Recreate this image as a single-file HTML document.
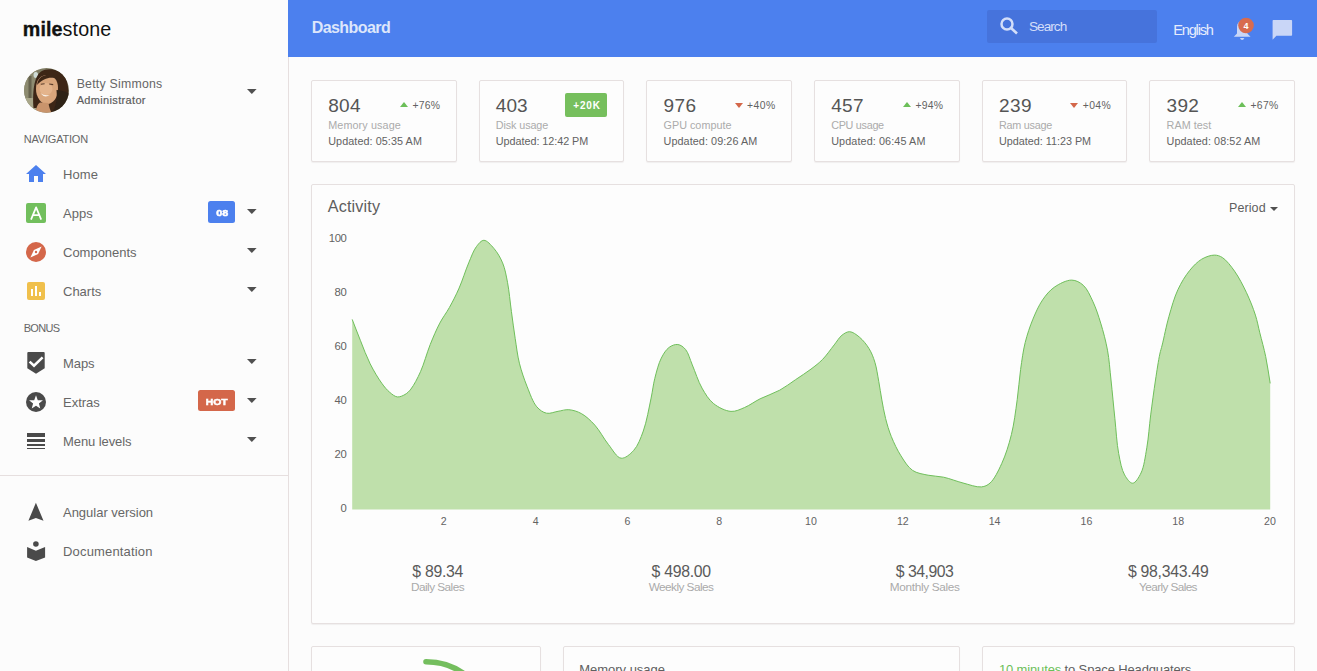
<!DOCTYPE html>
<html><head><meta charset="utf-8">
<style>
*{box-sizing:border-box;margin:0;padding:0}
html,body{width:1317px;height:671px;overflow:hidden;background:#fcfcfc;font-family:"Liberation Sans",sans-serif;color:#555;position:relative}
.t{position:absolute;white-space:nowrap}
.b{position:absolute}
.card{position:absolute;background:#fdfdfd;border:1px solid #e6e0e0;border-radius:2px;box-shadow:0 1px 1px rgba(90,70,70,0.07)}
.caret{position:absolute;left:246.8px;width:0;height:0;border-left:4.9px solid transparent;border-right:4.9px solid transparent;border-top:4.9px solid #505050}
.tri-up{position:absolute;width:0;height:0;border-left:4.8px solid transparent;border-right:4.8px solid transparent;border-bottom:5px solid #6cbf59}
.tri-dn{position:absolute;width:0;height:0;border-left:4.7px solid transparent;border-right:4.7px solid transparent;border-top:5.3px solid #d4674a}
</style></head>
<body>
<!-- sidebar -->
<div class="b" style="left:0;top:0;width:288px;height:671px;background:#fcfcfc"></div>
<div class="b" style="left:288px;top:0;width:1px;height:671px;background:#e6dfdf"></div>
<div class="b" style="left:0;top:475px;width:288px;height:1px;background:#e6dfdf"></div>

<!-- avatar -->
<svg class="b" style="left:24px;top:68px" width="45" height="45" viewBox="0 0 45 45">
  <defs><clipPath id="av"><circle cx="22.5" cy="22.4" r="22.4"/></clipPath>
  <filter id="bl" x="-10%" y="-10%" width="120%" height="120%"><feGaussianBlur stdDeviation="0.7"/></filter></defs>
  <g clip-path="url(#av)">
    <rect width="45" height="45" fill="#7f7c63"/>
    <g filter="url(#bl)">
    <rect x="-2" y="0" width="15" height="47" fill="#8d8b70"/>
    <rect x="4.5" y="8" width="3" height="30" fill="#66634d"/>
    <rect x="0" y="30" width="12" height="17" fill="#a9a78a"/>
    <ellipse cx="11.8" cy="7" rx="2.3" ry="3" fill="#cfdcd6"/>
    <path d="M9.5 40 C8.5 26 9.5 9 17 3.5 C24 -0.5 35 1 40.5 8 C45.5 15 44.5 30 46 46 L30 46 L12 40 Z" fill="#3c2719"/>
    <path d="M12 21 C12 12 16.5 7 23 7 C30 7 34 12.5 34 20 C34 28 31 33.5 26 35.5 C22 37 18 35.5 15.5 32 C13 28.5 12 25 12 21Z" fill="#d9a67c"/>
    <path d="M13 17 C14 10 19 6.5 25 6.8 C30 7.2 32 9 33 11 C28 8.5 20 9 13 17Z" fill="#3c2719"/>
    <ellipse cx="22" cy="21" rx="6.5" ry="6" fill="#e4b48c"/>
    <path d="M16.8 16.2 L20.6 15.8 M25.2 16 L29.2 16.6" stroke="#5a3c2c" stroke-width="1.1"/>
    <path d="M16.5 25.3 Q21 31 26 26.8 Q21 28.3 16.5 25.3Z" fill="#f8f0e8"/>
    <path d="M11.5 46 C12 40 13.5 36 16 34.5 L24.5 35 C25 38.5 26 42 28 46Z" fill="#c9946c"/>
    <path d="M32.5 22 C33.5 32 31.5 40 27 46 L46 46 L46 26 C41 23 36 22 32.5 22Z" fill="#2f2017"/>
    </g>
  </g>
</svg>
<svg class="b" style="left:245px;top:86.8px" width="14" height="10" viewBox="0 0 14 10"><path d="M2 2.1 H11.6 L6.8 6.9 Z" fill="#505050"/></svg>

<!-- nav icons -->
<svg class="b" style="left:24px;top:162px" width="24" height="24" viewBox="0 0 24 24"><path d="M10 20v-6h4v6h5v-8h3L12 3 2 12h3v8z" fill="#4c80ee"/></svg>
<div class="b" style="left:26px;top:203px;width:20px;height:20px;background:#72bf5d;border-radius:2px"></div>
<svg class="b" style="left:26px;top:203px" width="20" height="20" viewBox="0 0 20 20"><path d="M5 16.7 L10.1 4.3 L15.2 16.7 M6.9 12.1 H13.3" stroke="#fff" stroke-width="1.75" fill="none" stroke-linejoin="round"/></svg>
<svg class="b" style="left:26px;top:242px" width="20" height="20" viewBox="0 0 20 20"><circle cx="10" cy="10" r="10" fill="#d4674a"/><path d="M15.6 4.4 L12.1 12.1 L4.4 15.6 L7.9 7.9 Z" fill="#fff"/><circle cx="10" cy="10" r="1.2" fill="#d4674a"/></svg>
<div class="b" style="left:27px;top:282px;width:18px;height:18px;background:#f0c04c;border-radius:2px"></div>
<div class="b" style="left:31px;top:289px;width:2px;height:7px;background:#fff"></div>
<div class="b" style="left:35px;top:286px;width:2px;height:10px;background:#fff"></div>
<div class="b" style="left:39px;top:292px;width:2px;height:4px;background:#fff"></div>
<svg class="b" style="left:26px;top:351px" width="20" height="24" viewBox="0 0 20 24"><path d="M1.3 2 Q1.3 1 2.3 1 H17.7 Q18.7 1 18.7 2 V17.3 L10 22.7 L1.3 17.3 Z" fill="#4a4a4a"/><path d="M3.6 10.6 L8 14.7 L16.6 6.4" stroke="#fff" stroke-width="2.5" fill="none"/></svg>
<svg class="b" style="left:26px;top:392px" width="20" height="20" viewBox="0 0 20 20"><circle cx="10" cy="10" r="10" fill="#4a4a4a"/><path d="M10.00 3.30 L11.79 8.13 L16.94 8.34 L12.90 11.54 L14.29 16.51 L10.00 13.65 L5.71 16.51 L7.10 11.54 L3.06 8.34 L8.21 8.13 Z" fill="#fff"/></svg>
<div class="b" style="left:27px;top:433px;width:18px;height:3.6px;background:#4a4a4a"></div>
<div class="b" style="left:27px;top:439px;width:18px;height:2.8px;background:#4a4a4a"></div>
<div class="b" style="left:27px;top:444px;width:18px;height:1.8px;background:#4a4a4a"></div>
<div class="b" style="left:27px;top:447.9px;width:18px;height:1px;background:#4a4a4a"></div>
<svg class="b" style="left:26px;top:500px" width="20" height="24" viewBox="0 0 20 24"><path d="M9.9 2.7 L17.5 20.8 L9.9 17.9 L2.4 20.8 Z" fill="#4a4a4a"/></svg>
<svg class="b" style="left:26px;top:538px" width="20" height="24" viewBox="0 0 20 24"><circle cx="9.9" cy="6" r="2.8" fill="#4a4a4a"/><path d="M1.1 9.1 L9.9 12.8 L19.1 9.1 V19.6 L9.9 22.9 L1.1 19.6 Z" fill="#4a4a4a"/></svg>

<svg class="b" style="left:245px;top:206.8px" width="14" height="10" viewBox="0 0 14 10"><path d="M2 2.1 H11.6 L6.8 6.9 Z" fill="#505050"/></svg>
<svg class="b" style="left:245px;top:245.8px" width="14" height="10" viewBox="0 0 14 10"><path d="M2 2.1 H11.6 L6.8 6.9 Z" fill="#505050"/></svg>
<svg class="b" style="left:245px;top:284.8px" width="14" height="10" viewBox="0 0 14 10"><path d="M2 2.1 H11.6 L6.8 6.9 Z" fill="#505050"/></svg>
<svg class="b" style="left:245px;top:356.8px" width="14" height="10" viewBox="0 0 14 10"><path d="M2 2.1 H11.6 L6.8 6.9 Z" fill="#505050"/></svg>
<svg class="b" style="left:245px;top:395.8px" width="14" height="10" viewBox="0 0 14 10"><path d="M2 2.1 H11.6 L6.8 6.9 Z" fill="#505050"/></svg>
<svg class="b" style="left:245px;top:434.8px" width="14" height="10" viewBox="0 0 14 10"><path d="M2 2.1 H11.6 L6.8 6.9 Z" fill="#505050"/></svg>

<div class="b" style="left:208px;top:201px;width:27px;height:22px;background:#4c80ee;border-radius:2.5px"></div>
<div class="b" style="left:198px;top:390px;width:37px;height:21px;background:#d4674a;border-radius:2.5px"></div>

<!-- header -->
<div class="b" style="left:288px;top:0;width:1029px;height:57px;background:#4c80ee"></div>
<div class="b" style="left:987px;top:10px;width:170px;height:32.5px;background:#4673dc;border-radius:2px"></div>
<svg class="b" style="left:996px;top:13px" width="26" height="26" viewBox="0 0 26 26"><circle cx="11" cy="10.9" r="5.5" stroke="#d3def9" stroke-width="2.5" fill="none"/><path d="M15 15 L21 20.5" stroke="#d3def9" stroke-width="2.6" fill="none"/></svg>
<svg class="b" style="left:1230px;top:14px" width="30" height="30" viewBox="0 0 30 30"><path d="M3.8 22.7 L7 19.5 V13 Q7 7.2 12.15 7.2 Q17.3 7.2 17.3 13 V19.5 L20.5 22.7 Z" fill="#c9d6f7"/><path d="M10 24 H14.3 Q13.6 25.9 12.15 25.9 Q10.7 25.9 10 24Z" fill="#c9d6f7"/><circle cx="16" cy="11.5" r="7.8" fill="#d86b4f"/></svg>
<svg class="b" style="left:1270px;top:18px" width="26" height="26" viewBox="0 0 26 26"><path d="M2.6 2.8 Q2.6 2 3.4 2 H21.3 Q22.1 2 22.1 2.8 V17 Q22.1 17.8 21.3 17.8 H6.4 L2.6 21.8 Z" fill="#c9d6f7"/></svg>

<!-- stat cards -->
<div class="card" style="left:311px;top:80px;width:146px;height:82px"></div>
<div class="card" style="left:478.67px;top:80px;width:145.67px;height:82px"></div>
<div class="card" style="left:646.33px;top:80px;width:145.67px;height:82px"></div>
<div class="card" style="left:814px;top:80px;width:145.67px;height:82px"></div>
<div class="card" style="left:981.67px;top:80px;width:145.67px;height:82px"></div>
<div class="card" style="left:1149.33px;top:80px;width:145.67px;height:82px"></div>
<div class="tri-up" style="left:399.7px;top:101.9px"></div>
<div class="b" style="left:565px;top:93px;width:42px;height:24px;background:#76bf5d;border-radius:2px"></div>
<div class="tri-dn" style="left:734.7px;top:102.8px"></div>
<div class="tri-up" style="left:902.5px;top:101.9px"></div>
<div class="tri-dn" style="left:1070.1px;top:102.8px"></div>
<div class="tri-up" style="left:1237.8px;top:101.9px"></div>

<!-- activity card -->
<div class="card" style="left:311px;top:184px;width:984px;height:439.5px"></div>
<div class="b" style="left:1270.2px;top:206.8px;width:0;height:0;border-left:4px solid transparent;border-right:4px solid transparent;border-top:4px solid #505050"></div>
<svg class="b" style="left:0;top:0" width="1317" height="671" viewBox="0 0 1317 671">
  <path d="M352.20,319.40 C354.97,326.50 357.58,333.47 360.50,340.70 C363.56,348.29 366.53,356.64 370.20,363.90 C373.68,370.79 378.09,378.21 381.80,383.30 C384.48,386.99 386.82,389.86 389.60,392.20 C392.03,394.24 394.66,396.57 397.30,396.90 C399.80,397.21 402.73,395.80 405.00,394.50 C407.26,393.20 408.91,391.63 410.90,389.10 C414.04,385.11 417.53,378.27 420.50,371.70 C424.07,363.79 426.81,353.05 430.20,344.60 C433.27,336.96 436.37,329.59 439.80,323.10 C442.82,317.37 446.31,313.06 449.40,307.50 C452.76,301.45 456.04,295.07 459.10,288.10 C462.51,280.33 465.52,270.35 468.70,262.90 C471.31,256.79 473.45,250.44 476.50,246.50 C478.73,243.62 481.24,240.32 483.90,240.30 C486.97,240.27 490.94,244.99 493.90,248.40 C497.29,252.30 500.37,257.53 502.60,262.90 C505.03,268.74 506.12,275.14 507.50,282.30 C509.17,290.98 510.09,301.87 511.40,311.40 C512.66,320.60 513.83,329.69 515.20,338.50 C516.51,346.93 517.40,355.16 519.40,363.20 C521.38,371.16 524.12,379.09 527.10,386.50 C529.95,393.59 532.83,402.24 536.80,406.80 C539.65,410.07 542.96,412.44 546.50,413.20 C550.06,413.96 554.31,411.89 558.10,411.30 C561.74,410.73 565.12,409.42 568.80,409.70 C572.86,410.01 577.35,411.36 581.40,413.60 C586.10,416.20 590.66,420.53 594.90,425.20 C599.79,430.59 603.85,438.85 608.50,444.60 C612.61,449.69 616.64,457.60 621.10,458.20 C625.09,458.74 630.20,454.25 633.70,450.40 C637.93,445.75 640.60,438.49 643.30,431.00 C646.68,421.64 649.06,407.69 651.10,398.10 C652.67,390.72 653.14,384.96 654.80,378.40 C656.51,371.63 658.50,363.61 661.30,358.10 C663.51,353.75 666.02,349.65 669.10,347.40 C671.67,345.52 675.06,344.16 677.80,344.50 C680.53,344.84 683.32,346.85 685.50,349.40 C688.48,352.87 689.86,359.20 692.30,364.90 C695.27,371.84 698.14,381.35 702.00,388.10 C705.39,394.02 708.74,399.71 713.60,403.60 C718.42,407.46 725.49,411.01 731.00,411.40 C735.75,411.74 740.03,409.41 744.60,407.50 C749.72,405.36 754.56,401.56 760.10,398.80 C766.18,395.77 773.65,393.50 779.70,390.20 C785.40,387.09 790.27,383.23 795.50,379.70 C800.70,376.19 806.29,372.67 811.00,369.10 C815.23,365.90 818.91,363.17 822.60,359.40 C826.69,355.22 830.71,349.25 834.20,344.90 C837.05,341.34 839.12,337.44 842.00,335.20 C844.38,333.36 847.01,331.59 849.70,331.70 C852.78,331.83 856.38,334.60 859.40,337.10 C862.92,340.02 866.51,344.47 869.10,348.70 C871.66,352.88 873.34,357.28 874.90,362.30 C876.70,368.11 877.64,375.40 878.80,381.70 C879.89,387.65 880.61,393.15 881.70,399.10 C882.86,405.40 883.97,412.20 885.60,418.50 C887.19,424.66 888.86,430.48 891.30,436.50 C893.91,442.95 897.28,450.08 901.00,455.90 C904.45,461.29 907.88,467.18 912.60,470.40 C917.02,473.41 922.88,474.06 928.10,475.20 C933.22,476.31 938.19,476.05 943.60,477.20 C949.75,478.51 956.59,481.36 963.00,483.00 C969.18,484.58 976.47,487.43 981.40,486.90 C984.91,486.53 987.35,485.44 990.10,483.00 C994.33,479.24 998.34,470.92 1001.70,463.60 C1005.61,455.09 1008.86,444.82 1011.40,434.60 C1014.13,423.61 1015.64,410.93 1017.20,399.70 C1018.65,389.29 1019.22,379.27 1020.60,369.50 C1021.91,360.23 1023.06,351.09 1025.20,342.50 C1027.22,334.37 1029.88,326.50 1032.90,319.20 C1035.73,312.35 1038.78,305.43 1042.60,299.90 C1046.00,294.98 1049.51,290.57 1054.20,287.30 C1059.13,283.87 1066.48,280.02 1071.70,280.10 C1075.98,280.17 1079.99,282.33 1083.30,285.30 C1087.37,288.94 1090.19,295.81 1093.00,301.80 C1096.06,308.32 1098.38,315.51 1100.70,323.10 C1103.27,331.53 1105.79,340.90 1107.50,350.20 C1109.27,359.84 1109.84,369.41 1111.00,380.00 C1112.32,392.05 1113.58,406.14 1114.90,418.70 C1116.15,430.64 1116.76,443.46 1118.70,453.60 C1120.24,461.64 1121.61,469.70 1124.60,474.90 C1126.76,478.66 1130.05,483.32 1132.70,483.20 C1135.52,483.07 1138.81,477.48 1141.00,473.00 C1144.07,466.72 1145.23,456.80 1146.80,447.80 C1148.57,437.61 1149.28,426.02 1150.70,414.90 C1152.17,403.43 1153.87,390.76 1155.50,380.00 C1156.91,370.71 1158.43,360.50 1159.80,354.10 C1160.62,350.27 1161.23,348.88 1162.20,345.00 C1163.91,338.16 1166.26,325.88 1168.90,316.60 C1171.50,307.45 1174.15,297.74 1177.90,289.70 C1181.26,282.49 1185.44,275.63 1189.80,270.30 C1193.49,265.79 1197.36,261.75 1201.70,259.20 C1205.63,256.89 1210.63,255.11 1214.40,255.10 C1217.43,255.09 1219.86,255.92 1222.60,257.70 C1226.55,260.27 1230.79,265.87 1234.50,271.10 C1238.86,277.24 1243.00,285.32 1246.50,292.70 C1249.96,299.99 1253.12,308.00 1255.40,315.10 C1257.38,321.28 1258.23,326.46 1259.80,332.80 C1261.62,340.15 1264.00,348.40 1265.70,356.60 C1267.49,365.24 1268.70,374.47 1270.20,383.40 L1270.2,509.6 L352.2,509.6 Z" fill="#bfe0ab"/>
  <path d="M352.20,319.40 C354.97,326.50 357.58,333.47 360.50,340.70 C363.56,348.29 366.53,356.64 370.20,363.90 C373.68,370.79 378.09,378.21 381.80,383.30 C384.48,386.99 386.82,389.86 389.60,392.20 C392.03,394.24 394.66,396.57 397.30,396.90 C399.80,397.21 402.73,395.80 405.00,394.50 C407.26,393.20 408.91,391.63 410.90,389.10 C414.04,385.11 417.53,378.27 420.50,371.70 C424.07,363.79 426.81,353.05 430.20,344.60 C433.27,336.96 436.37,329.59 439.80,323.10 C442.82,317.37 446.31,313.06 449.40,307.50 C452.76,301.45 456.04,295.07 459.10,288.10 C462.51,280.33 465.52,270.35 468.70,262.90 C471.31,256.79 473.45,250.44 476.50,246.50 C478.73,243.62 481.24,240.32 483.90,240.30 C486.97,240.27 490.94,244.99 493.90,248.40 C497.29,252.30 500.37,257.53 502.60,262.90 C505.03,268.74 506.12,275.14 507.50,282.30 C509.17,290.98 510.09,301.87 511.40,311.40 C512.66,320.60 513.83,329.69 515.20,338.50 C516.51,346.93 517.40,355.16 519.40,363.20 C521.38,371.16 524.12,379.09 527.10,386.50 C529.95,393.59 532.83,402.24 536.80,406.80 C539.65,410.07 542.96,412.44 546.50,413.20 C550.06,413.96 554.31,411.89 558.10,411.30 C561.74,410.73 565.12,409.42 568.80,409.70 C572.86,410.01 577.35,411.36 581.40,413.60 C586.10,416.20 590.66,420.53 594.90,425.20 C599.79,430.59 603.85,438.85 608.50,444.60 C612.61,449.69 616.64,457.60 621.10,458.20 C625.09,458.74 630.20,454.25 633.70,450.40 C637.93,445.75 640.60,438.49 643.30,431.00 C646.68,421.64 649.06,407.69 651.10,398.10 C652.67,390.72 653.14,384.96 654.80,378.40 C656.51,371.63 658.50,363.61 661.30,358.10 C663.51,353.75 666.02,349.65 669.10,347.40 C671.67,345.52 675.06,344.16 677.80,344.50 C680.53,344.84 683.32,346.85 685.50,349.40 C688.48,352.87 689.86,359.20 692.30,364.90 C695.27,371.84 698.14,381.35 702.00,388.10 C705.39,394.02 708.74,399.71 713.60,403.60 C718.42,407.46 725.49,411.01 731.00,411.40 C735.75,411.74 740.03,409.41 744.60,407.50 C749.72,405.36 754.56,401.56 760.10,398.80 C766.18,395.77 773.65,393.50 779.70,390.20 C785.40,387.09 790.27,383.23 795.50,379.70 C800.70,376.19 806.29,372.67 811.00,369.10 C815.23,365.90 818.91,363.17 822.60,359.40 C826.69,355.22 830.71,349.25 834.20,344.90 C837.05,341.34 839.12,337.44 842.00,335.20 C844.38,333.36 847.01,331.59 849.70,331.70 C852.78,331.83 856.38,334.60 859.40,337.10 C862.92,340.02 866.51,344.47 869.10,348.70 C871.66,352.88 873.34,357.28 874.90,362.30 C876.70,368.11 877.64,375.40 878.80,381.70 C879.89,387.65 880.61,393.15 881.70,399.10 C882.86,405.40 883.97,412.20 885.60,418.50 C887.19,424.66 888.86,430.48 891.30,436.50 C893.91,442.95 897.28,450.08 901.00,455.90 C904.45,461.29 907.88,467.18 912.60,470.40 C917.02,473.41 922.88,474.06 928.10,475.20 C933.22,476.31 938.19,476.05 943.60,477.20 C949.75,478.51 956.59,481.36 963.00,483.00 C969.18,484.58 976.47,487.43 981.40,486.90 C984.91,486.53 987.35,485.44 990.10,483.00 C994.33,479.24 998.34,470.92 1001.70,463.60 C1005.61,455.09 1008.86,444.82 1011.40,434.60 C1014.13,423.61 1015.64,410.93 1017.20,399.70 C1018.65,389.29 1019.22,379.27 1020.60,369.50 C1021.91,360.23 1023.06,351.09 1025.20,342.50 C1027.22,334.37 1029.88,326.50 1032.90,319.20 C1035.73,312.35 1038.78,305.43 1042.60,299.90 C1046.00,294.98 1049.51,290.57 1054.20,287.30 C1059.13,283.87 1066.48,280.02 1071.70,280.10 C1075.98,280.17 1079.99,282.33 1083.30,285.30 C1087.37,288.94 1090.19,295.81 1093.00,301.80 C1096.06,308.32 1098.38,315.51 1100.70,323.10 C1103.27,331.53 1105.79,340.90 1107.50,350.20 C1109.27,359.84 1109.84,369.41 1111.00,380.00 C1112.32,392.05 1113.58,406.14 1114.90,418.70 C1116.15,430.64 1116.76,443.46 1118.70,453.60 C1120.24,461.64 1121.61,469.70 1124.60,474.90 C1126.76,478.66 1130.05,483.32 1132.70,483.20 C1135.52,483.07 1138.81,477.48 1141.00,473.00 C1144.07,466.72 1145.23,456.80 1146.80,447.80 C1148.57,437.61 1149.28,426.02 1150.70,414.90 C1152.17,403.43 1153.87,390.76 1155.50,380.00 C1156.91,370.71 1158.43,360.50 1159.80,354.10 C1160.62,350.27 1161.23,348.88 1162.20,345.00 C1163.91,338.16 1166.26,325.88 1168.90,316.60 C1171.50,307.45 1174.15,297.74 1177.90,289.70 C1181.26,282.49 1185.44,275.63 1189.80,270.30 C1193.49,265.79 1197.36,261.75 1201.70,259.20 C1205.63,256.89 1210.63,255.11 1214.40,255.10 C1217.43,255.09 1219.86,255.92 1222.60,257.70 C1226.55,260.27 1230.79,265.87 1234.50,271.10 C1238.86,277.24 1243.00,285.32 1246.50,292.70 C1249.96,299.99 1253.12,308.00 1255.40,315.10 C1257.38,321.28 1258.23,326.46 1259.80,332.80 C1261.62,340.15 1264.00,348.40 1265.70,356.60 C1267.49,365.24 1268.70,374.47 1270.20,383.40" stroke="#6fbf5b" stroke-width="1" fill="none"/>
</svg>

<!-- bottom cards -->
<div class="card" style="left:311px;top:646px;width:230px;height:60px"></div>
<div class="card" style="left:563px;top:646px;width:397px;height:60px"></div>
<div class="card" style="left:982px;top:646px;width:313px;height:60px"></div>
<svg class="b" style="left:311px;top:646px" width="230" height="25" viewBox="0 0 230 25"><path d="M115 15.8 A66 66 0 0 1 160 33.5" stroke="#74be5e" stroke-width="5.6" stroke-linecap="round" fill="none"/></svg>

<div class="t" style="left:22.80px;top:19.72px;font-size:19.7px;line-height:19.7px;color:#111;font-weight:normal;letter-spacing:0.103px;"><b style="-webkit-text-stroke:0.35px #111">mile</b>stone</div>
<div class="t" style="left:76.70px;top:77.89px;font-size:12.3px;line-height:12.3px;color:#666;font-weight:normal;letter-spacing:0.234px;">Betty Simmons</div>
<div class="t" style="left:76.70px;top:94.99px;font-size:11px;line-height:11px;color:#5c5c5c;font-weight:normal;letter-spacing:0.334px;-webkit-text-stroke:0.2px #5c5c5c;">Administrator</div>
<div class="t" style="left:23.70px;top:133.79px;font-size:11px;line-height:11px;color:#666;font-weight:normal;letter-spacing:-0.191px;">NAVIGATION</div>
<div class="t" style="left:63.00px;top:167.90px;font-size:13px;line-height:13px;color:#676767;font-weight:normal;letter-spacing:0.104px;">Home</div>
<div class="t" style="left:63.00px;top:206.90px;font-size:13px;line-height:13px;color:#676767;font-weight:normal;letter-spacing:0.000px;">Apps</div>
<div class="t" style="left:63.00px;top:245.90px;font-size:13px;line-height:13px;color:#676767;font-weight:normal;letter-spacing:-0.013px;">Components</div>
<div class="t" style="left:63.00px;top:284.90px;font-size:13px;line-height:13px;color:#676767;font-weight:normal;letter-spacing:0.000px;">Charts</div>
<div class="t" style="left:23.70px;top:322.89px;font-size:11px;line-height:11px;color:#666;font-weight:normal;letter-spacing:-0.656px;">BONUS</div>
<div class="t" style="left:63.00px;top:357.20px;font-size:13px;line-height:13px;color:#676767;font-weight:normal;letter-spacing:-0.066px;">Maps</div>
<div class="t" style="left:63.00px;top:396.20px;font-size:13px;line-height:13px;color:#676767;font-weight:normal;letter-spacing:0.000px;">Extras</div>
<div class="t" style="left:63.00px;top:435.20px;font-size:13px;line-height:13px;color:#676767;font-weight:normal;letter-spacing:-0.087px;">Menu levels</div>
<div class="t" style="left:63.00px;top:506.30px;font-size:13px;line-height:13px;color:#676767;font-weight:normal;letter-spacing:-0.016px;">Angular version</div>
<div class="t" style="left:63.00px;top:545.30px;font-size:13px;line-height:13px;color:#676767;font-weight:normal;letter-spacing:0.171px;">Documentation</div>
<div class="t" style="left:216.66px;top:207.57px;font-size:9.6px;line-height:9.6px;color:#fff;font-weight:bold;letter-spacing:0.000px;-webkit-text-stroke:0.5px #fff;transform:scaleX(1.12);">08</div>
<div class="t" style="left:207.00px;top:398.21px;font-size:9.2px;line-height:9.2px;color:#fff;font-weight:bold;letter-spacing:0.000px;-webkit-text-stroke:0.5px #fff;transform:scaleX(1.13);">HOT</div>
<div class="t" style="left:311.70px;top:19.96px;font-size:16px;line-height:16px;color:#dde6fb;font-weight:bold;letter-spacing:-0.572px;">Dashboard</div>
<div class="t" style="left:1029.00px;top:19.99px;font-size:13.6px;line-height:13.6px;color:#d3def9;font-weight:normal;letter-spacing:-0.976px;">Search</div>
<div class="t" style="left:1173.30px;top:22.94px;font-size:14.6px;line-height:14.6px;color:#e6ecfc;font-weight:normal;letter-spacing:-1.213px;">English</div>
<div class="t" style="left:1243.49px;top:22.08px;font-size:9px;line-height:9px;color:#fff;font-weight:bold;letter-spacing:0.000px;">4</div>
<div class="t" style="left:328.20px;top:96.12px;font-size:19px;line-height:19px;color:#555;font-weight:normal;letter-spacing:0.298px;">804</div>
<div class="t" style="left:328.20px;top:119.76px;font-size:10.8px;line-height:10.8px;color:#ababab;font-weight:normal;letter-spacing:0.107px;">Memory usage</div>
<div class="t" style="left:328.20px;top:136.16px;font-size:10.8px;line-height:10.8px;color:#626262;font-weight:normal;letter-spacing:0.078px;">Updated: 05:35 AM</div>
<div class="t" style="left:412.40px;top:101.00px;font-size:10.4px;line-height:10.4px;color:#626262;font-weight:normal;letter-spacing:0.242px;">+76%</div>
<div class="t" style="left:495.87px;top:96.12px;font-size:19px;line-height:19px;color:#555;font-weight:normal;letter-spacing:0.048px;">403</div>
<div class="t" style="left:495.87px;top:119.76px;font-size:10.8px;line-height:10.8px;color:#ababab;font-weight:normal;letter-spacing:-0.114px;">Disk usage</div>
<div class="t" style="left:495.87px;top:136.16px;font-size:10.8px;line-height:10.8px;color:#626262;font-weight:normal;letter-spacing:-0.040px;">Updated: 12:42 PM</div>
<div class="t" style="left:573.27px;top:101.33px;font-size:10px;line-height:10px;color:#fff;font-weight:bold;letter-spacing:0.804px;">+20K</div>
<div class="t" style="left:663.54px;top:96.12px;font-size:19px;line-height:19px;color:#555;font-weight:normal;letter-spacing:0.398px;">976</div>
<div class="t" style="left:663.54px;top:119.76px;font-size:10.8px;line-height:10.8px;color:#ababab;font-weight:normal;letter-spacing:0.009px;">GPU compute</div>
<div class="t" style="left:663.54px;top:136.16px;font-size:10.8px;line-height:10.8px;color:#626262;font-weight:normal;letter-spacing:0.078px;">Updated: 09:26 AM</div>
<div class="t" style="left:746.94px;top:101.00px;font-size:10.4px;line-height:10.4px;color:#626262;font-weight:normal;letter-spacing:0.508px;">+40%</div>
<div class="t" style="left:831.21px;top:96.12px;font-size:19px;line-height:19px;color:#555;font-weight:normal;letter-spacing:0.298px;">457</div>
<div class="t" style="left:831.21px;top:119.76px;font-size:10.8px;line-height:10.8px;color:#ababab;font-weight:normal;letter-spacing:-0.290px;">CPU usage</div>
<div class="t" style="left:831.21px;top:136.16px;font-size:10.8px;line-height:10.8px;color:#626262;font-weight:normal;letter-spacing:0.109px;">Updated: 06:45 AM</div>
<div class="t" style="left:915.61px;top:101.00px;font-size:10.4px;line-height:10.4px;color:#626262;font-weight:normal;letter-spacing:0.175px;">+94%</div>
<div class="t" style="left:998.88px;top:96.12px;font-size:19px;line-height:19px;color:#555;font-weight:normal;letter-spacing:0.548px;">239</div>
<div class="t" style="left:998.88px;top:119.76px;font-size:10.8px;line-height:10.8px;color:#ababab;font-weight:normal;letter-spacing:-0.215px;">Ram usage</div>
<div class="t" style="left:998.88px;top:136.16px;font-size:10.8px;line-height:10.8px;color:#626262;font-weight:normal;letter-spacing:-0.002px;">Updated: 11:23 PM</div>
<div class="t" style="left:1082.78px;top:101.00px;font-size:10.4px;line-height:10.4px;color:#626262;font-weight:normal;letter-spacing:0.342px;">+04%</div>
<div class="t" style="left:1166.55px;top:96.12px;font-size:19px;line-height:19px;color:#555;font-weight:normal;letter-spacing:0.298px;">392</div>
<div class="t" style="left:1166.55px;top:119.76px;font-size:10.8px;line-height:10.8px;color:#ababab;font-weight:normal;letter-spacing:0.042px;">RAM test</div>
<div class="t" style="left:1166.55px;top:136.16px;font-size:10.8px;line-height:10.8px;color:#626262;font-weight:normal;letter-spacing:0.078px;">Updated: 08:52 AM</div>
<div class="t" style="left:1250.45px;top:101.00px;font-size:10.4px;line-height:10.4px;color:#626262;font-weight:normal;letter-spacing:0.342px;">+67%</div>
<div class="t" style="left:327.80px;top:197.69px;font-size:16.2px;line-height:16.2px;color:#5e5e5e;font-weight:normal;letter-spacing:0.146px;">Activity</div>
<div class="t" style="left:1229.00px;top:201.82px;font-size:12.5px;line-height:12.5px;color:#5e5e5e;font-weight:normal;letter-spacing:0.092px;">Period</div>
<div class="t" style="left:340.60px;top:502.63px;font-size:11.3px;line-height:11.3px;color:#636363;font-weight:normal;letter-spacing:0.000px;">0</div>
<div class="t" style="left:334.60px;top:448.63px;font-size:11.3px;line-height:11.3px;color:#636363;font-weight:normal;letter-spacing:-0.278px;">20</div>
<div class="t" style="left:334.60px;top:394.63px;font-size:11.3px;line-height:11.3px;color:#636363;font-weight:normal;letter-spacing:-0.278px;">40</div>
<div class="t" style="left:334.60px;top:340.63px;font-size:11.3px;line-height:11.3px;color:#636363;font-weight:normal;letter-spacing:-0.278px;">60</div>
<div class="t" style="left:334.60px;top:286.63px;font-size:11.3px;line-height:11.3px;color:#636363;font-weight:normal;letter-spacing:-0.278px;">80</div>
<div class="t" style="left:328.70px;top:232.63px;font-size:11.3px;line-height:11.3px;color:#636363;font-weight:normal;letter-spacing:-0.330px;">100</div>
<div class="t" style="left:440.85px;top:516.03px;font-size:10.6px;line-height:10.6px;color:#636363;font-weight:normal;letter-spacing:0.000px;">2</div>
<div class="t" style="left:532.65px;top:516.03px;font-size:10.6px;line-height:10.6px;color:#636363;font-weight:normal;letter-spacing:0.000px;">4</div>
<div class="t" style="left:624.45px;top:516.03px;font-size:10.6px;line-height:10.6px;color:#636363;font-weight:normal;letter-spacing:0.000px;">6</div>
<div class="t" style="left:716.25px;top:516.03px;font-size:10.6px;line-height:10.6px;color:#636363;font-weight:normal;letter-spacing:0.000px;">8</div>
<div class="t" style="left:805.10px;top:516.03px;font-size:10.6px;line-height:10.6px;color:#636363;font-weight:normal;letter-spacing:0.000px;">10</div>
<div class="t" style="left:896.90px;top:516.03px;font-size:10.6px;line-height:10.6px;color:#636363;font-weight:normal;letter-spacing:0.000px;">12</div>
<div class="t" style="left:988.70px;top:516.03px;font-size:10.6px;line-height:10.6px;color:#636363;font-weight:normal;letter-spacing:0.000px;">14</div>
<div class="t" style="left:1080.50px;top:516.03px;font-size:10.6px;line-height:10.6px;color:#636363;font-weight:normal;letter-spacing:0.000px;">16</div>
<div class="t" style="left:1172.30px;top:516.03px;font-size:10.6px;line-height:10.6px;color:#636363;font-weight:normal;letter-spacing:0.000px;">18</div>
<div class="t" style="left:1264.10px;top:516.03px;font-size:10.6px;line-height:10.6px;color:#636363;font-weight:normal;letter-spacing:0.000px;">20</div>
<div class="t" style="left:412.35px;top:563.73px;font-size:15.8px;line-height:15.8px;color:#5a5a5a;font-weight:normal;letter-spacing:-0.303px;">$ 89.34</div>
<div class="t" style="left:411.05px;top:582.01px;font-size:11.8px;line-height:11.8px;color:#aaa;font-weight:normal;letter-spacing:-0.552px;">Daily Sales</div>
<div class="t" style="left:651.50px;top:563.73px;font-size:15.8px;line-height:15.8px;color:#5a5a5a;font-weight:normal;letter-spacing:-0.271px;">$ 498.00</div>
<div class="t" style="left:648.70px;top:582.01px;font-size:11.8px;line-height:11.8px;color:#aaa;font-weight:normal;letter-spacing:-0.550px;">Weekly Sales</div>
<div class="t" style="left:895.70px;top:563.73px;font-size:15.8px;line-height:15.8px;color:#5a5a5a;font-weight:normal;letter-spacing:-0.471px;">$ 34,903</div>
<div class="t" style="left:889.80px;top:582.01px;font-size:11.8px;line-height:11.8px;color:#aaa;font-weight:normal;letter-spacing:-0.341px;">Monthly Sales</div>
<div class="t" style="left:1127.90px;top:563.73px;font-size:15.8px;line-height:15.8px;color:#5a5a5a;font-weight:normal;letter-spacing:-0.265px;">$ 98,343.49</div>
<div class="t" style="left:1139.10px;top:582.01px;font-size:11.8px;line-height:11.8px;color:#aaa;font-weight:normal;letter-spacing:-0.614px;">Yearly Sales</div>
<div class="t" style="left:579.20px;top:663.30px;font-size:13px;line-height:13px;color:#606060;font-weight:normal;letter-spacing:-0.017px;">Memory usage</div>
<div class="t" style="left:998.90px;top:663.40px;font-size:13px;line-height:13px;color:#606060;font-weight:normal;letter-spacing:-0.139px;"><span style="color:#6cbf59">10 minutes</span> to Space Headquaters</div>
</body></html>
